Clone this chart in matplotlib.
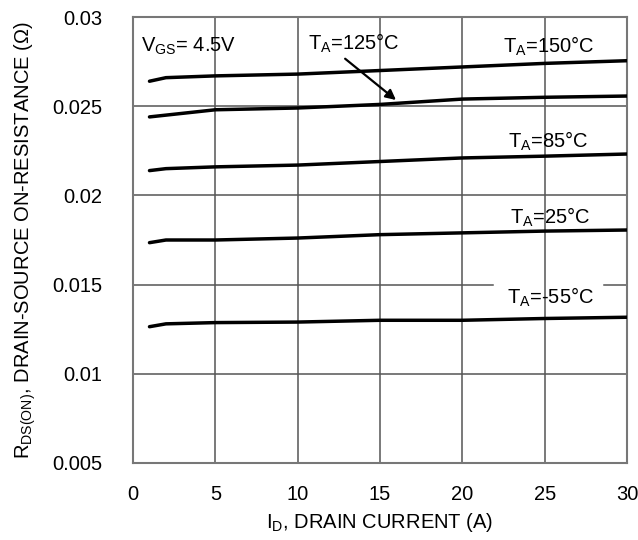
import numpy as np
import matplotlib.pyplot as plt

plt.rcParams['font.family'] = ['Liberation Sans', 'DejaVu Sans']
plt.rcParams['mathtext.default'] = 'regular'

# drain current (A)
current = [1, 2, 5, 10, 15, 20, 25, 30]
# on-resistance (ohm) at each ambient temperature
r_150 = [0.0264, 0.0266, 0.0267, 0.0268, 0.0270, 0.0272, 0.0274, 0.02755]
r_125 = [0.0244, 0.0245, 0.0248, 0.0249, 0.0251, 0.0254, 0.0255, 0.02557]
r_85 = [0.02139, 0.0215, 0.0216, 0.0217, 0.0219, 0.0221, 0.0222, 0.02232]
r_25 = [0.01735, 0.0175, 0.0175, 0.01761, 0.0178, 0.0179, 0.0180, 0.01806]
r_m55 = [0.01264, 0.0128, 0.01287, 0.0129, 0.0130, 0.0130, 0.0131, 0.01317]

yticks = [0.005, 0.01, 0.015, 0.02, 0.025, 0.03]
ylabels = ['0.005', '0.01', '0.015', '0.02', '0.025', '0.03']

fig = plt.figure(figsize=(6.38, 5.4), dpi=100)
ax = fig.add_axes([0.2085, 0.1426, 0.7743, 0.8259])

for r in [r_150, r_125, r_85, r_25, r_m55]:
    ax.plot(current, r, color='black', linewidth=2.5, solid_capstyle='round', zorder=3)

ax.set_xlim(0, 30)
ax.set_ylim(0.005, 0.03)
ax.set_xticks(np.arange(0, 31, 5))
ax.set_yticks(yticks)
ax.set_yticklabels(ylabels)
ax.grid(True, axis='x', color='#555555', linewidth=1.1)
# horizontal grid drawn by hand so the 0.015 line can leave room for the -55C label
for y in yticks:
    if y == 0.015:
        ax.axhline(y, 0, 0.7287, color='#555555', linewidth=1.1, zorder=1)
        ax.axhline(y, 0.9534, 1, color='#555555', linewidth=1.1, zorder=1)
    else:
        ax.axhline(y, color='#555555', linewidth=1.1, zorder=1)
ax.tick_params(length=0, labelsize=14.5)
ax.tick_params(axis='y', pad=22)
ax.tick_params(axis='x', pad=16)
for s in ax.spines.values():
    s.set_color('#777777')
    s.set_linewidth(1.5)

ax.set_xlabel('$I_D$, DRAIN CURRENT (A)', fontsize=14.5, labelpad=5)
ax.set_ylabel('$R_{DS(ON)}$, DRAIN-SOURCE ON-RESISTANCE ($\\Omega$)', fontsize=14.5, labelpad=10)

ax.text(0.5, 0.02835, '$V_{GS}$= 4.5V', fontsize=14.5, va='center')
ax.text(10.6, 0.02855, '$T_A$=125°C', fontsize=14.5, va='center')
ax.text(22.45, 0.02835, '$T_A$=150°C', fontsize=14.5, va='center')
ax.text(22.8, 0.02302, '$T_A$=85°C', fontsize=14.5, va='center')
ax.text(22.9, 0.01876, '$T_A$=25°C', fontsize=14.5, va='center')
ax.text(22.7, 0.01428, '$T_A$=-55°C', fontsize=14.5, va='center')
ax.annotate('', xy=(16.1, 0.02525), xytext=(12.75, 0.02776),
            arrowprops=dict(arrowstyle='-|>', color='black', lw=1.6, mutation_scale=15))

plt.savefig('out.png')
